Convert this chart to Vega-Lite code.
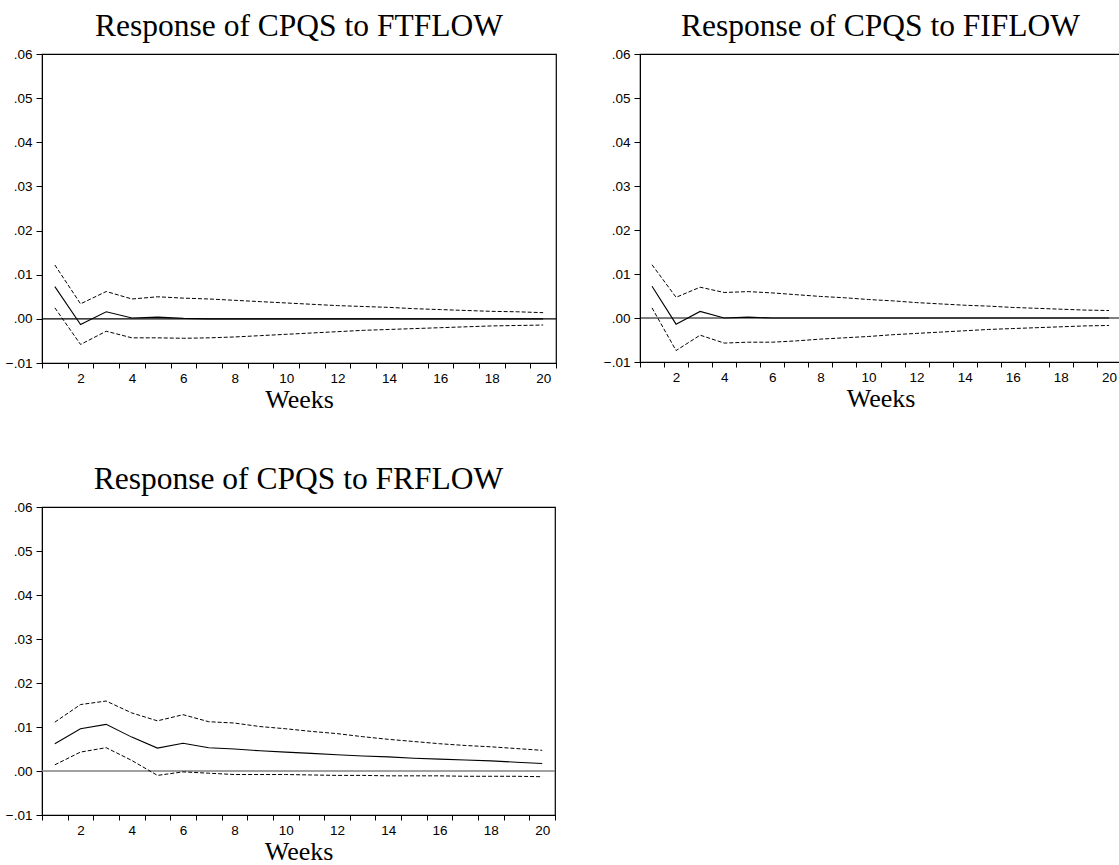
{
  "$schema": "https://vega.github.io/schema/vega-lite/v6.json",
  "background": "white",
  "padding": {"left": 4, "top": 9, "right": 0, "bottom": 0},
  "datasets": {
    "irf": [
      {"shock": "FTFLOW", "week": 1, "resp": 0.0073, "lower": 0.0025, "upper": 0.0122},
      {"shock": "FTFLOW", "week": 2, "resp": -0.0013, "lower": -0.0058, "upper": 0.0034},
      {"shock": "FTFLOW", "week": 3, "resp": 0.0016, "lower": -0.0028, "upper": 0.0062},
      {"shock": "FTFLOW", "week": 4, "resp": 0.0002, "lower": -0.0043, "upper": 0.0045},
      {"shock": "FTFLOW", "week": 5, "resp": 0.0004, "lower": -0.0043, "upper": 0.0050},
      {"shock": "FTFLOW", "week": 6, "resp": 0.0001, "lower": -0.0044, "upper": 0.0047},
      {"shock": "FTFLOW", "week": 7, "resp": 0.0000, "lower": -0.0043, "upper": 0.0045},
      {"shock": "FTFLOW", "week": 8, "resp": 0.0000, "lower": -0.0041, "upper": 0.0042},
      {"shock": "FTFLOW", "week": 9, "resp": 0.0000, "lower": -0.0038, "upper": 0.0039},
      {"shock": "FTFLOW", "week": 10, "resp": 0.0000, "lower": -0.0035, "upper": 0.0036},
      {"shock": "FTFLOW", "week": 11, "resp": 0.0000, "lower": -0.0032, "upper": 0.0033},
      {"shock": "FTFLOW", "week": 12, "resp": 0.0000, "lower": -0.0029, "upper": 0.0030},
      {"shock": "FTFLOW", "week": 13, "resp": 0.0000, "lower": -0.0026, "upper": 0.0028},
      {"shock": "FTFLOW", "week": 14, "resp": 0.0000, "lower": -0.0024, "upper": 0.0026},
      {"shock": "FTFLOW", "week": 15, "resp": 0.0000, "lower": -0.0022, "upper": 0.0023},
      {"shock": "FTFLOW", "week": 16, "resp": 0.0000, "lower": -0.0020, "upper": 0.0021},
      {"shock": "FTFLOW", "week": 17, "resp": 0.0000, "lower": -0.0018, "upper": 0.0019},
      {"shock": "FTFLOW", "week": 18, "resp": 0.0000, "lower": -0.0016, "upper": 0.0017},
      {"shock": "FTFLOW", "week": 19, "resp": 0.0000, "lower": -0.0015, "upper": 0.0016},
      {"shock": "FTFLOW", "week": 20, "resp": 0.0000, "lower": -0.0014, "upper": 0.0014},

      {"shock": "FIFLOW", "week": 1, "resp": 0.0072, "lower": 0.0023, "upper": 0.0121},
      {"shock": "FIFLOW", "week": 2, "resp": -0.0014, "lower": -0.0074, "upper": 0.0047},
      {"shock": "FIFLOW", "week": 3, "resp": 0.0015, "lower": -0.0039, "upper": 0.0070},
      {"shock": "FIFLOW", "week": 4, "resp": 0.0000, "lower": -0.0057, "upper": 0.0058},
      {"shock": "FIFLOW", "week": 5, "resp": 0.0002, "lower": -0.0055, "upper": 0.0060},
      {"shock": "FIFLOW", "week": 6, "resp": 0.0000, "lower": -0.0055, "upper": 0.0057},
      {"shock": "FIFLOW", "week": 7, "resp": 0.0000, "lower": -0.0052, "upper": 0.0053},
      {"shock": "FIFLOW", "week": 8, "resp": 0.0000, "lower": -0.0048, "upper": 0.0049},
      {"shock": "FIFLOW", "week": 9, "resp": 0.0000, "lower": -0.0045, "upper": 0.0046},
      {"shock": "FIFLOW", "week": 10, "resp": 0.0000, "lower": -0.0042, "upper": 0.0042},
      {"shock": "FIFLOW", "week": 11, "resp": 0.0000, "lower": -0.0038, "upper": 0.0039},
      {"shock": "FIFLOW", "week": 12, "resp": 0.0000, "lower": -0.0035, "upper": 0.0035},
      {"shock": "FIFLOW", "week": 13, "resp": 0.0000, "lower": -0.0032, "upper": 0.0032},
      {"shock": "FIFLOW", "week": 14, "resp": 0.0000, "lower": -0.0029, "upper": 0.0029},
      {"shock": "FIFLOW", "week": 15, "resp": 0.0000, "lower": -0.0026, "upper": 0.0027},
      {"shock": "FIFLOW", "week": 16, "resp": 0.0000, "lower": -0.0024, "upper": 0.0024},
      {"shock": "FIFLOW", "week": 17, "resp": 0.0000, "lower": -0.0022, "upper": 0.0022},
      {"shock": "FIFLOW", "week": 18, "resp": 0.0000, "lower": -0.0020, "upper": 0.0020},
      {"shock": "FIFLOW", "week": 19, "resp": 0.0000, "lower": -0.0018, "upper": 0.0018},
      {"shock": "FIFLOW", "week": 20, "resp": 0.0000, "lower": -0.0017, "upper": 0.0017},

      {"shock": "FRFLOW", "week": 1, "resp": 0.0062, "lower": 0.0014, "upper": 0.0111},
      {"shock": "FRFLOW", "week": 2, "resp": 0.0096, "lower": 0.0043, "upper": 0.0151},
      {"shock": "FRFLOW", "week": 3, "resp": 0.0106, "lower": 0.0053, "upper": 0.0159},
      {"shock": "FRFLOW", "week": 4, "resp": 0.0077, "lower": 0.0024, "upper": 0.0132},
      {"shock": "FRFLOW", "week": 5, "resp": 0.0052, "lower": -0.0010, "upper": 0.0114},
      {"shock": "FRFLOW", "week": 6, "resp": 0.0063, "lower": -0.0002, "upper": 0.0128},
      {"shock": "FRFLOW", "week": 7, "resp": 0.0053, "lower": -0.0005, "upper": 0.0112},
      {"shock": "FRFLOW", "week": 8, "resp": 0.0050, "lower": -0.0008, "upper": 0.0109},
      {"shock": "FRFLOW", "week": 9, "resp": 0.0046, "lower": -0.0008, "upper": 0.0101},
      {"shock": "FRFLOW", "week": 10, "resp": 0.0043, "lower": -0.0008, "upper": 0.0096},
      {"shock": "FRFLOW", "week": 11, "resp": 0.0040, "lower": -0.0009, "upper": 0.0090},
      {"shock": "FRFLOW", "week": 12, "resp": 0.0037, "lower": -0.0010, "upper": 0.0085},
      {"shock": "FRFLOW", "week": 13, "resp": 0.0034, "lower": -0.0010, "upper": 0.0078},
      {"shock": "FRFLOW", "week": 14, "resp": 0.0032, "lower": -0.0011, "upper": 0.0072},
      {"shock": "FRFLOW", "week": 15, "resp": 0.0029, "lower": -0.0011, "upper": 0.0067},
      {"shock": "FRFLOW", "week": 16, "resp": 0.0027, "lower": -0.0011, "upper": 0.0062},
      {"shock": "FRFLOW", "week": 17, "resp": 0.0025, "lower": -0.0012, "upper": 0.0058},
      {"shock": "FRFLOW", "week": 18, "resp": 0.0023, "lower": -0.0012, "upper": 0.0055},
      {"shock": "FRFLOW", "week": 19, "resp": 0.0020, "lower": -0.0012, "upper": 0.0051},
      {"shock": "FRFLOW", "week": 20, "resp": 0.0017, "lower": -0.0013, "upper": 0.0047}
    ]
  },
  "config": {
    "view": {"stroke": "black", "strokeWidth": 1.2},
    "axis": {
      "grid": false,
      "labelFont": "Liberation Sans",
      "labelFontSize": 13.5,
      "labelColor": "black",
      "domainColor": "black",
      "tickColor": "black",
      "titleFont": "Liberation Serif",
      "titleFontSize": 26,
      "titleFontWeight": "normal",
      "titleColor": "black"
    },
    "title": {
      "font": "Liberation Serif",
      "fontSize": 31.5,
      "fontWeight": "normal",
      "color": "black",
      "baseline": "alphabetic",
      "offset": 5,
      "anchor": "middle"
    }
  },
  "spacing": 48,
  "vconcat": [
    {
      "spacing": 44,
      "hconcat": [
        {
          "title": "Response of CPQS to FTFLOW",
          "width": 514,
          "height": 309,
          "resolve": {"axis": {"x": "independent"}},
          "layer": [
            {
              "data": {"values": [{}]},
              "mark": {"type": "rule", "color": "black", "strokeWidth": 1.2},
              "encoding": {"y": {"datum": 0, "type": "quantitative", "scale": {"domain": [-0.01, 0.06], "nice": false}}}
            },
            {
              "data": {"name": "irf"},
              "transform": [{"filter": "datum.shock === 'FTFLOW'"}],
              "mark": {"type": "line", "color": "black", "strokeWidth": 1.1},
              "encoding": {
                "x": {"field": "week", "type": "quantitative", "scale": {"domain": [0.5, 20.5], "nice": false, "zero": false},
                  "axis": {"orient": "bottom", "title": null, "labels": false, "tickSize": 5,
                    "values": [0.5,1.5,2.5,3.5,4.5,5.5,6.5,7.5,8.5,9.5,10.5,11.5,12.5,13.5,14.5,15.5,16.5,17.5,18.5,19.5,20.5]}},
                "y": {"field": "resp", "type": "quantitative", "scale": {"domain": [-0.01, 0.06], "nice": false},
                  "axis": {"title": null, "values": [-0.01, 0, 0.01, 0.02, 0.03, 0.04, 0.05, 0.06], "labelExpr": "replace(format(datum.value, '.2f'), '0.', '.')", "labelFontSize": 13.5, "tickSize": 6, "labelPadding": 4, "labelFlush": false}}
              }
            },
            {
              "data": {"name": "irf"},
              "transform": [{"filter": "datum.shock === 'FTFLOW'"}],
              "mark": {"type": "line", "color": "black", "strokeWidth": 1, "strokeDash": [4, 2]},
              "encoding": {
                "x": {"field": "week", "type": "quantitative",
                  "axis": {"orient": "bottom", "title": "Weeks", "values": [2,4,6,8,10,12,14,16,18,20], "format": "d", "labelFontSize": 13.5, "ticks": false, "domain": false, "labelFlush": false, "labelOverlap": false, "labelPadding": 8, "titlePadding": 2}},
                "y": {"field": "upper", "type": "quantitative"}
              }
            },
            {
              "data": {"name": "irf"},
              "transform": [{"filter": "datum.shock === 'FTFLOW'"}],
              "mark": {"type": "line", "color": "black", "strokeWidth": 1, "strokeDash": [4, 2]},
              "encoding": {"x": {"field": "week", "type": "quantitative", "axis": null}, "y": {"field": "lower", "type": "quantitative"}}
            }
          ]
        },
        {
          "title": "Response of CPQS to FIFLOW",
          "width": 481,
          "height": 308,
          "resolve": {"axis": {"x": "independent"}},
          "layer": [
            {
              "data": {"values": [{}]},
              "mark": {"type": "rule", "color": "black", "strokeWidth": 1.2},
              "encoding": {"y": {"datum": 0, "type": "quantitative", "scale": {"domain": [-0.01, 0.06], "nice": false}}}
            },
            {
              "data": {"name": "irf"},
              "transform": [{"filter": "datum.shock === 'FIFLOW'"}],
              "mark": {"type": "line", "color": "black", "strokeWidth": 1.1},
              "encoding": {
                "x": {"field": "week", "type": "quantitative", "scale": {"domain": [0.5, 20.5], "nice": false, "zero": false},
                  "axis": {"orient": "bottom", "title": null, "labels": false, "tickSize": 5,
                    "values": [0.5,1.5,2.5,3.5,4.5,5.5,6.5,7.5,8.5,9.5,10.5,11.5,12.5,13.5,14.5,15.5,16.5,17.5,18.5,19.5,20.5]}},
                "y": {"field": "resp", "type": "quantitative", "scale": {"domain": [-0.01, 0.06], "nice": false},
                  "axis": {"title": null, "values": [-0.01, 0, 0.01, 0.02, 0.03, 0.04, 0.05, 0.06], "labelExpr": "replace(format(datum.value, '.2f'), '0.', '.')", "labelFontSize": 13.5, "tickSize": 6, "labelPadding": 4, "labelFlush": false}}
              }
            },
            {
              "data": {"name": "irf"},
              "transform": [{"filter": "datum.shock === 'FIFLOW'"}],
              "mark": {"type": "line", "color": "black", "strokeWidth": 1, "strokeDash": [4, 2]},
              "encoding": {
                "x": {"field": "week", "type": "quantitative",
                  "axis": {"orient": "bottom", "title": "Weeks", "values": [2,4,6,8,10,12,14,16,18,20], "format": "d", "labelFontSize": 13.5, "ticks": false, "domain": false, "labelFlush": false, "labelOverlap": false, "labelPadding": 8, "titlePadding": 2}},
                "y": {"field": "upper", "type": "quantitative"}
              }
            },
            {
              "data": {"name": "irf"},
              "transform": [{"filter": "datum.shock === 'FIFLOW'"}],
              "mark": {"type": "line", "color": "black", "strokeWidth": 1, "strokeDash": [4, 2]},
              "encoding": {"x": {"field": "week", "type": "quantitative", "axis": null}, "y": {"field": "lower", "type": "quantitative"}}
            }
          ]
        }
      ]
    },
    {
      "title": "Response of CPQS to FRFLOW",
      "width": 513,
      "height": 308,
      "resolve": {"axis": {"x": "independent"}},
      "layer": [
        {
          "data": {"values": [{}]},
          "mark": {"type": "rule", "color": "#808080", "strokeWidth": 1.6},
          "encoding": {"y": {"datum": 0, "type": "quantitative", "scale": {"domain": [-0.01, 0.06], "nice": false}}}
        },
        {
          "data": {"name": "irf"},
          "transform": [{"filter": "datum.shock === 'FRFLOW'"}],
          "mark": {"type": "line", "color": "black", "strokeWidth": 1.1},
          "encoding": {
            "x": {"field": "week", "type": "quantitative", "scale": {"domain": [0.5, 20.5], "nice": false, "zero": false},
              "axis": {"orient": "bottom", "title": null, "labels": false, "tickSize": 5,
                "values": [0.5,1.5,2.5,3.5,4.5,5.5,6.5,7.5,8.5,9.5,10.5,11.5,12.5,13.5,14.5,15.5,16.5,17.5,18.5,19.5,20.5]}},
            "y": {"field": "resp", "type": "quantitative", "scale": {"domain": [-0.01, 0.06], "nice": false},
              "axis": {"title": null, "values": [-0.01, 0, 0.01, 0.02, 0.03, 0.04, 0.05, 0.06], "labelExpr": "replace(format(datum.value, '.2f'), '0.', '.')", "labelFontSize": 13.5, "tickSize": 6, "labelPadding": 4, "labelFlush": false}}
          }
        },
        {
          "data": {"name": "irf"},
          "transform": [{"filter": "datum.shock === 'FRFLOW'"}],
          "mark": {"type": "line", "color": "black", "strokeWidth": 1, "strokeDash": [4, 2]},
          "encoding": {
            "x": {"field": "week", "type": "quantitative",
              "axis": {"orient": "bottom", "title": "Weeks", "values": [2,4,6,8,10,12,14,16,18,20], "format": "d", "labelFontSize": 13.5, "ticks": false, "domain": false, "labelFlush": false, "labelOverlap": false, "labelPadding": 8, "titlePadding": 2}},
            "y": {"field": "upper", "type": "quantitative"}
          }
        },
        {
          "data": {"name": "irf"},
          "transform": [{"filter": "datum.shock === 'FRFLOW'"}],
          "mark": {"type": "line", "color": "black", "strokeWidth": 1, "strokeDash": [4, 2]},
          "encoding": {"x": {"field": "week", "type": "quantitative", "axis": null}, "y": {"field": "lower", "type": "quantitative"}}
        }
      ]
    }
  ]
}
